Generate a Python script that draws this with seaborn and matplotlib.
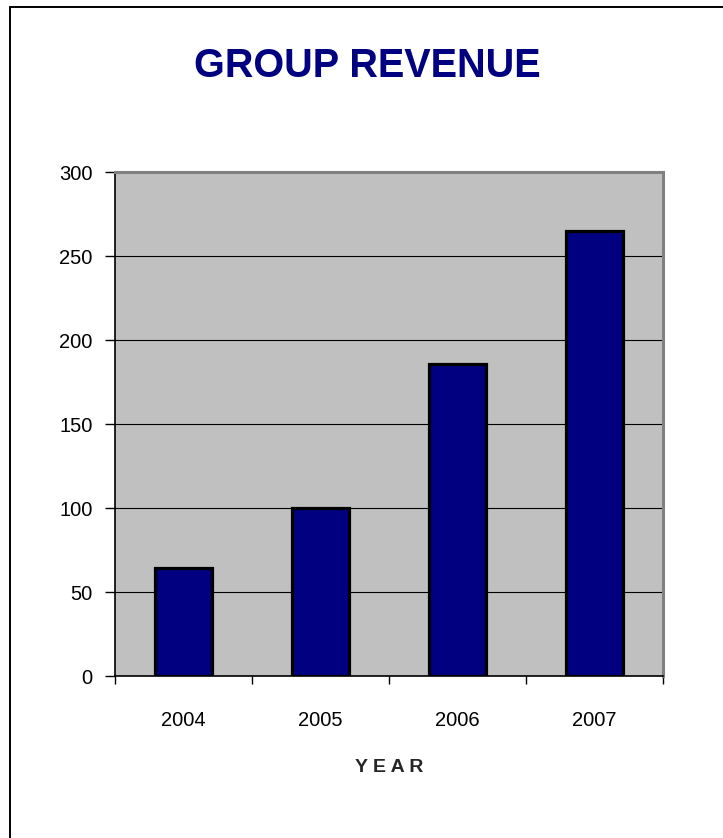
import matplotlib
matplotlib.use("Agg")
import matplotlib.pyplot as plt
from matplotlib.lines import Line2D
import seaborn as sns
import pandas as pd

years = ["2004", "2005", "2006", "2007"]
revenue = [64.5, 100, 186, 265]
yticks = [0, 50, 100, 150, 200, 250, 300]

df = pd.DataFrame({"year": years, "revenue": revenue})

sns.set_style("white")
plt.rcParams['font.family'] = ['Liberation Sans', 'DejaVu Sans']

W, H = 723, 838
fig = plt.figure(figsize=(W / 100, H / 100), dpi=100)
fig.patch.set_facecolor("white")
ax = fig.add_axes([115 / W, 1 - 676 / H, (663 - 115) / W, (676 - 172) / H])
ax.set_facecolor("#C0C0C0")

sns.barplot(data=df, x="year", y="revenue", color="#000080", width=0.42,
            edgecolor="black", linewidth=2.3, saturation=1, ax=ax, zorder=3)

ax.set_ylim(0, 300)
ax.set_xlim(-0.5, len(years) - 0.5)
ax.set_yticks(yticks)
ax.set_yticklabels([str(v) for v in yticks], fontsize=14.5, color="black")
ax.yaxis.grid(True, color="black", linewidth=0.8, zorder=1)
ax.set_axisbelow(True)

# x tick marks at category boundaries
ax.set_xticks(range(len(years)))
ax.set_xticklabels(years, fontsize=14.5, color="black")
ax.set_xticks([i - 0.5 for i in range(len(years) + 1)], minor=True)
ax.tick_params(axis="x", which="major", length=0, pad=25, bottom=True)
ax.tick_params(axis="x", which="minor", length=6, width=1, color="black",
               direction="out", bottom=True)
ax.tick_params(axis="y", which="major", length=7, width=1, color="black",
               direction="out", pad=9, left=True)

ax.set_xlabel("Y E A R", fontsize=14, fontweight="bold", labelpad=21)
ax.set_ylabel("")

for s in ["top", "right"]:
    ax.spines[s].set_color("#808080")
    ax.spines[s].set_linewidth(2.2)
    ax.spines[s].set_visible(True)
for s in ["left", "bottom"]:
    ax.spines[s].set_color("black")
    ax.spines[s].set_linewidth(1.2)
    ax.spines[s].set_visible(True)

fig.text(367 / W, 1 - 66 / H, "GROUP REVENUE", ha="center", va="center",
         fontsize=28.5, fontweight="bold", color="#000080")

# outer frame (left and top edges visible)
fig.add_artist(Line2D([10 / W, 10 / W], [0, 1 - 7 / H], color="black", linewidth=1.4,
                      transform=fig.transFigure))
fig.add_artist(Line2D([10 / W, 1], [1 - 7 / H, 1 - 7 / H], color="black", linewidth=1.4,
                      transform=fig.transFigure))

fig.savefig("out.png", dpi=100)
